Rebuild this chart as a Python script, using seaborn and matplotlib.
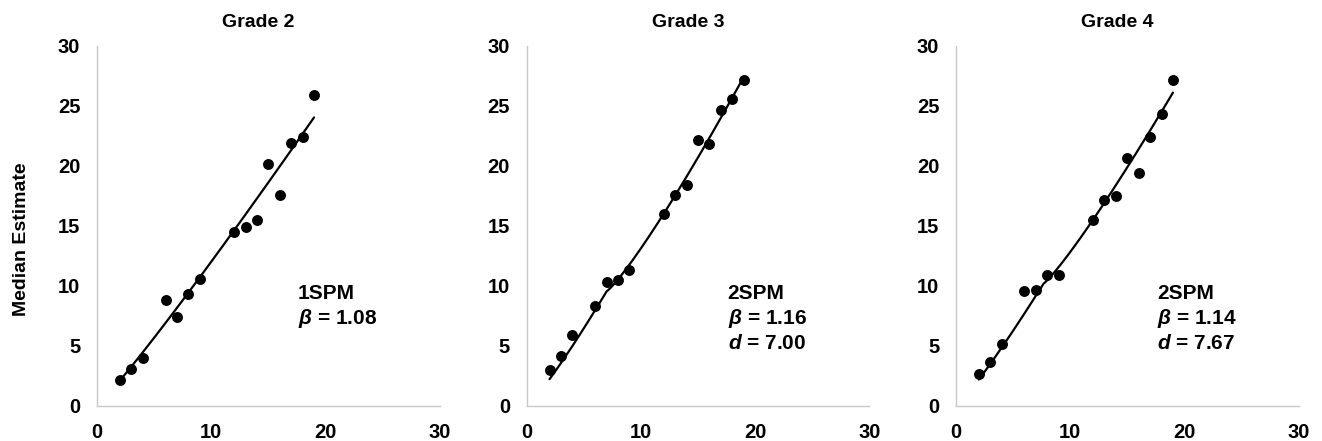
import numpy as np
import matplotlib
matplotlib.use("Agg")
import matplotlib.pyplot as plt
import seaborn as sns

# number magnitude presented (x) and the median estimate
numbers = [2, 3, 4, 6, 7, 8, 9, 12, 13, 14, 15, 16, 17, 18, 19]
grade2_est = [2.2, 3.1, 4.0, 8.8, 7.4, 9.3, 10.6, 14.5, 14.9, 15.5, 20.2, 17.6, 21.9, 22.4, 25.9]
grade3_est = [3.0, 4.2, 5.9, 8.3, 10.3, 10.5, 11.3, 16.0, 17.6, 18.4, 22.2, 21.8, 24.7, 25.6, 27.2]
grade4_est = [2.7, 3.7, 5.2, 9.6, 9.7, 10.9, 10.9, 15.5, 17.2, 17.5, 20.7, 19.4, 22.4, 24.3, 27.2]

titles = ["Grade 2", "Grade 3", "Grade 4"]
models = ["1SPM", "2SPM", "2SPM"]
betas = [1.08, 1.16, 1.14]
ds = [None, 7.00, 7.67]

x_ticks = [0, 10, 20, 30]
y_ticks = [0, 5, 10, 15, 20, 25, 30]

sns.set_style("white")
plt.rcParams["font.family"] = ["Liberation Sans", "DejaVu Sans"]
plt.rcParams["font.weight"] = "bold"
plt.rcParams["text.color"] = "black"
plt.rcParams["axes.labelcolor"] = "black"
plt.rcParams["xtick.color"] = "black"
plt.rcParams["ytick.color"] = "black"
plt.rcParams["mathtext.fontset"] = "custom"
plt.rcParams["mathtext.it"] = "Liberation Sans:italic:bold"
plt.rcParams["mathtext.rm"] = "Liberation Sans:bold"


def power_model(x, beta, d):
    # one- or two-segment power model used for the fitted line
    x = np.asarray(x, dtype=float)
    if d is None:
        return x ** beta
    return np.where(x <= d, x ** beta, d ** beta + np.clip(x - d, 0, None) ** beta)


fig = plt.figure(figsize=(13.22, 4.41), dpi=100)
lefts = [0.0734, 0.3984, 0.7231]
series = [grade2_est, grade3_est, grade4_est]

for i in range(3):
    ax = fig.add_axes([lefts[i], 0.0794, 0.2592, 0.8163])
    xs = np.linspace(min(numbers), max(numbers), 300)
    sns.lineplot(x=xs, y=power_model(xs, betas[i], ds[i]), color="black",
                 linewidth=1.6, ax=ax)
    sns.scatterplot(x=numbers, y=series[i], color="black", s=62,
                    edgecolor="black", linewidth=0, ax=ax, zorder=3)

    ax.set_xlim(0, 30)
    ax.set_ylim(0, 30)
    ax.set_xticks(x_ticks)
    ax.set_yticks(y_ticks)
    ax.tick_params(length=0, labelsize=14.5, pad=12)
    for lab in ax.get_xticklabels() + ax.get_yticklabels():
        lab.set_fontweight("bold")
    sns.despine(ax=ax)
    for side in ["left", "bottom"]:
        ax.spines[side].set_color("#c8c8c8")
        ax.spines[side].set_linewidth(1.0)

    ax.set_title(titles[i], fontsize=14, fontweight="bold", pad=14, x=0.471)

    lines = [models[i], r"$\beta$ = %.2f" % betas[i]]
    if ds[i] is not None:
        lines.append(r"$d$ = %.2f" % ds[i])
    for k, txt in enumerate(lines):
        ax.text(17.6, 9.4 - 2.08 * k, txt, fontsize=15, fontweight="bold",
                ha="left", va="center")

    if i == 0:
        ax.set_ylabel("Median Estimate", fontsize=14, fontweight="bold")
        ax.yaxis.set_label_coords(-0.197, 0.464)

fig.savefig("out.png", dpi=100)
